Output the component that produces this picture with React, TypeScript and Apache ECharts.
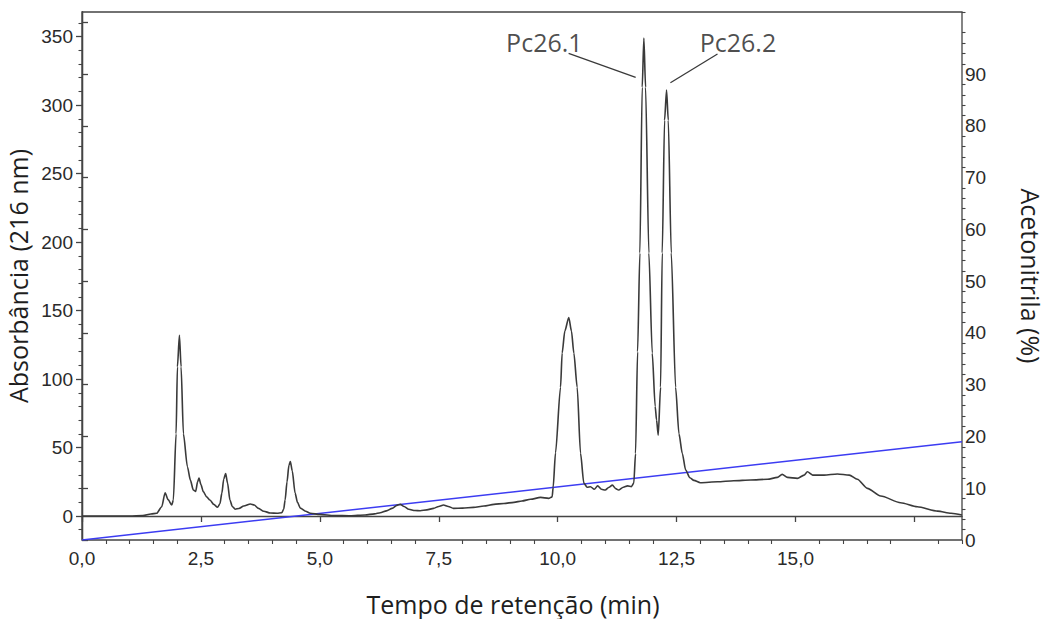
import React, { useEffect, useRef } from "react";
import * as echarts from "echarts";

// Chromatogram (retention time in min, absorbance at 216 nm)
const retentionTime = [
  0, 1.0, 1.28, 1.45, 1.57, 1.677, 1.747, 1.81, 1.887, 1.92, 1.978, 2.006, 2.048, 2.083, 2.132, 2.216,
  2.28, 2.34, 2.39, 2.43, 2.46, 2.5, 2.55, 2.62, 2.69, 2.77, 2.85, 2.9, 2.94, 2.98, 3.02, 3.06, 3.11,
  3.16, 3.22, 3.3, 3.4, 3.54, 3.62, 3.71, 3.82, 3.96, 4.1, 4.2, 4.24, 4.27, 4.31, 4.35, 4.38, 4.42,
  4.48, 4.53, 4.59, 4.7, 4.8, 5.0, 5.3, 5.64, 5.95, 6.15, 6.27, 6.4, 6.52, 6.62, 6.69, 6.77, 6.87,
  7.0, 7.11, 7.25, 7.39, 7.5, 7.6, 7.7, 7.81, 8.0, 8.23, 8.45, 8.66, 8.87, 9.08, 9.25, 9.43, 9.64,
  9.81, 9.884, 9.905, 9.954, 10.06, 10.094, 10.15, 10.234, 10.29, 10.34, 10.41, 10.48, 10.55, 10.62,
  10.69, 10.77, 10.84, 10.92, 11.0, 11.08, 11.15, 11.22, 11.28, 11.38, 11.47, 11.55, 11.6, 11.637,
  11.68, 11.728, 11.777, 11.812, 11.848, 11.917, 11.988, 12.05, 12.079, 12.114, 12.163, 12.198,
  12.247, 12.289, 12.325, 12.388, 12.479, 12.55, 12.62, 12.69, 12.78, 12.864, 13.0, 13.36, 13.7,
  14.06, 14.41, 14.62, 14.72, 14.83, 15.04, 15.18, 15.25, 15.36, 15.6, 15.88, 16.13, 16.3, 16.51,
  16.79, 17.21, 17.56, 17.99, 18.27, 18.5,
];
const absorbance = [
  0, 0, 0.3, 1.5, 2, 6.8, 17, 12, 8, 11.7, 60, 109, 132, 109, 60, 36,
  26, 19, 18, 25, 27.7, 23, 17.8, 14, 11.7, 8.5, 6.4, 9, 16.7, 27, 31, 24, 11.7,
  7, 5, 5.5, 7.3, 8.8, 8, 5.6, 3.5, 2.2, 2, 2.4, 5, 11.7, 25, 37, 39.7, 33,
  16.7, 10, 5.8, 3.5, 2, 1.2, 0.4, 0.2, 0.8, 1.6, 2.4, 3.8, 5.6, 7.8, 8.5, 7, 4.9,
  4, 3.9, 4.5, 5.6, 7, 8, 7, 5.6, 5.8, 6.3, 7.3, 8.5, 9.2, 10, 11, 12.2, 13.6,
  12.9, 14, 21, 46, 94, 119, 135, 145, 135, 119, 94, 46, 24, 21,
  21.4, 19.5, 22, 19.5, 19, 21, 22.6, 20, 19, 21, 22, 21.5, 24, 45.7,
  120, 192, 313, 349, 313, 192, 119, 80, 70, 59, 94, 192,
  289, 311, 289, 192, 94, 60, 45.7, 33.6, 28, 26, 24.3, 25, 25.8,
  26.3, 26.8, 28.2, 30.4, 28.2, 27.5, 29.9, 32.3, 29.9, 29.9, 30.7, 29.9, 26.8, 20.2,
  14.6, 9.7, 6.8, 3.6, 2, 0.7,
];

// Acetonitrile gradient (%)
const gradientTime = [0, 18.5];
const gradientPercent = [0, 19];

// Tick labels
const xTickLabels = [0, 2.5, 5, 7.5, 10, 12.5, 15];
const xMajorTicks = [0, 2.5, 5, 7.5, 10, 12.5, 15, 17.5];
const yLeftTickLabels = [0, 50, 100, 150, 200, 250, 300, 350];
const yRightTickLabels = [0, 10, 20, 30, 40, 50, 60, 70, 80, 90];
const yRightMajorTicks = [0, 10, 20, 30, 40, 50, 60, 70, 80, 90, 100];

// Peak annotations
const peakNames = ["Pc26.1", "Pc26.2"];
const peakLabelAt = [
  [9.72, 346],
  [13.79, 346],
];
const peakLeaderFrom = [
  [10.23, 337.8],
  [13.36, 337.3],
];
const peakLeaderTo = [
  [11.64, 320.3],
  [12.37, 316.3],
];

const minorSteps = (from: number, to: number, step: number, skip: number) => {
  const out: number[] = [];
  for (let v = from; v <= to + 1e-9; v += step) {
    const r = Math.round(v * 100) / 100;
    if (Math.abs(r / skip - Math.round(r / skip)) > 1e-6) out.push(r);
  }
  return out;
};

const AXIS_COLOR = "#444444";
const LABEL_FONT = "Liberation Sans, Arial, sans-serif";
const TITLE_FONT = "Open Sans, Noto Sans, sans-serif";

export default function App() {
  const ref = useRef<HTMLDivElement>(null);

  useEffect(() => {
    if (!ref.current) return;
    const chart = echarts.init(ref.current, undefined, { renderer: "svg" });

    const chromData = retentionTime.map((t, i) => [t, absorbance[i]]);
    const gradData = gradientTime.map((t, i) => [t, gradientPercent[i]]);

    const fmtX = (v: number) => v.toFixed(1).replace(".", ",");

    const option: any = {
      animation: false,
      backgroundColor: "#ffffff",
      grid: {
        left: 82,
        right: 84,
        top: 12,
        bottom: 79,
        containLabel: false,
        outerBoundsMode: "none",
        show: true,
        borderColor: AXIS_COLOR,
        borderWidth: 1.3,
        backgroundColor: "transparent",
      },
      xAxis: [
        {
          type: "value",
          min: 0,
          max: 18.5,
          position: "bottom",
          name: "Tempo de retenção (min)",
          nameLocation: "middle",
          nameGap: 51,
          nameTextStyle: {
            fontFamily: TITLE_FONT,
            fontSize: 25,
            color: "#1e1e1e",
            padding: [0, 18, 0, 0],
          },
          axisLine: { show: true, lineStyle: { color: AXIS_COLOR, width: 1.3 } },
          axisTick: {
            show: true,
            length: 6,
            customValues: xMajorTicks,
            lineStyle: { color: AXIS_COLOR, width: 1.3 },
          },
          axisLabel: {
            customValues: xTickLabels,
            formatter: fmtX,
            fontFamily: LABEL_FONT,
            fontSize: 19,
            color: "#2a2a2a",
            margin: 9,
          },
          splitLine: { show: false },
        },
        {
          type: "value",
          min: 0,
          max: 18.5,
          position: "bottom",
          axisLine: { show: false },
          axisTick: {
            show: true,
            length: 4,
            customValues: minorSteps(0, 18.5, 0.5, 2.5),
            lineStyle: { color: AXIS_COLOR, width: 1.1 },
          },
          axisLabel: { show: false },
          splitLine: { show: false },
        },
      ],
      yAxis: [
        {
          type: "value",
          min: -17.5,
          max: 368,
          position: "left",
          name: "Absorbância (216 nm)",
          nameLocation: "middle",
          nameGap: 39,
          nameTextStyle: { fontFamily: TITLE_FONT, fontSize: 25, color: "#1e1e1e" },
          axisLine: { show: true, lineStyle: { color: AXIS_COLOR, width: 1.3 } },
          axisTick: {
            show: true,
            length: 6,
            customValues: yLeftTickLabels,
            lineStyle: { color: AXIS_COLOR, width: 1.3 },
          },
          axisLabel: {
            customValues: yLeftTickLabels,
            fontFamily: LABEL_FONT,
            fontSize: 19,
            color: "#2a2a2a",
            margin: 9,
          },
          splitLine: { show: false },
        },
        {
          type: "value",
          min: 0,
          max: 102,
          position: "right",
          name: "Acetonitrila (%)",
          nameLocation: "middle",
          nameGap: 56,
          nameRotate: -90,
          nameTextStyle: { fontFamily: TITLE_FONT, fontSize: 25, color: "#1e1e1e" },
          axisLine: { show: true, lineStyle: { color: AXIS_COLOR, width: 1.3 } },
          axisTick: {
            show: true,
            length: 6,
            customValues: yRightMajorTicks,
            lineStyle: { color: AXIS_COLOR, width: 1.3 },
          },
          axisLabel: {
            customValues: yRightTickLabels,
            fontFamily: LABEL_FONT,
            fontSize: 19,
            color: "#2a2a2a",
            margin: 3,
          },
          splitLine: { show: false },
        },
        {
          type: "value",
          min: -17.5,
          max: 368,
          position: "left",
          axisLine: { show: false },
          axisTick: {
            show: true,
            length: 3.5,
            customValues: minorSteps(-10, 360, 10, 50),
            lineStyle: { color: AXIS_COLOR, width: 1.1 },
          },
          axisLabel: { show: false },
          splitLine: { show: false },
        },
        {
          type: "value",
          min: 0,
          max: 102,
          position: "right",
          axisLine: { show: false },
          axisTick: {
            show: true,
            length: 3.5,
            customValues: minorSteps(2, 102, 2, 10),
            lineStyle: { color: AXIS_COLOR, width: 1.1 },
          },
          axisLabel: { show: false },
          splitLine: { show: false },
        },
      ],
      series: [
        {
          name: "Absorbância",
          type: "line",
          xAxisIndex: 0,
          yAxisIndex: 0,
          data: chromData,
          showSymbol: false,
          smooth: 0.25,
          smoothMonotone: "x",
          lineStyle: { color: "#3a3a3a", width: 1.6 },
          silent: true,
          z: 3,
          markLine: {
            silent: true,
            symbol: ["none", "none"],
            label: { show: false },
            lineStyle: { color: "#3a3a3a", width: 1.3, type: "solid" },
            data: peakLeaderFrom.map((p, i) => [{ coord: p }, { coord: peakLeaderTo[i] }]),
          },
        },
        {
          name: "Acetonitrila",
          type: "line",
          xAxisIndex: 0,
          yAxisIndex: 1,
          data: gradData,
          showSymbol: false,
          lineStyle: { color: "#3c3cf2", width: 1.5 },
          silent: true,
          z: 2,
        },
        {
          name: "Picos",
          type: "scatter",
          xAxisIndex: 0,
          yAxisIndex: 0,
          symbolSize: 0,
          silent: true,
          data: peakLabelAt.map((p, i) => ({ value: p, name: peakNames[i] })),
          label: {
            show: true,
            position: "inside",
            formatter: (p: any) => p.name,
            fontFamily: TITLE_FONT,
            fontSize: 25,
            color: "#1e1e1e",
          },
        },
      ],
    };

    chart.setOption(option);
    return () => chart.dispose();
  }, []);

  return <div ref={ref} style={{ width: 1046, height: 619, position: "absolute", left: 0, top: 0 }} />;
}
